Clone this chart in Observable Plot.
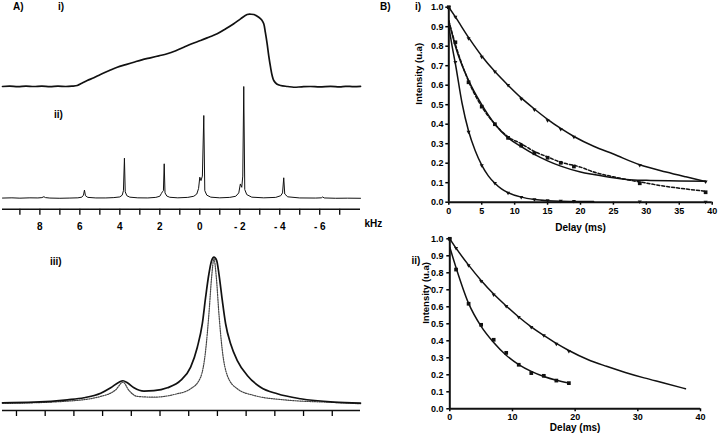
<!DOCTYPE html>
<html><head><meta charset="utf-8">
<script src="https://cdn.jsdelivr.net/npm/d3@7"></script>
<script src="https://cdn.jsdelivr.net/npm/@observablehq/plot@0.6"></script>
<style>
body{margin:0;background:#fff;}
#fig{position:relative;width:720px;height:438px;overflow:hidden;font-family:"Liberation Sans",Arial,sans-serif;background:#fff;}
.pn{position:absolute;}
.lbl{position:absolute;font-weight:bold;font-size:10px;line-height:10px;color:#000;white-space:nowrap;}
</style></head><body><div id="fig"></div>
<script>
// ---------- Panel A data ----------
const kHzDomain = [9.87, -8.04];
const kHzTicks = [9,8,7,6,5,4,3,2,1,0,-1,-2,-3,-4,-5,-6,-7];
const kHzLabels = [8,6,4,2,0,-2,-4,-6];
// spectrum i) [kHz, intensity]
const specI = [[9.87,0.0],[9.5,0.004],[9.1,-0.003],[8.7,0.005],[8.3,0.0],[7.9,0.006],[7.5,-0.002],[7.1,0.004],[6.7,0.0],[6.4,0.005],[6.13,0.014],[5.9,0.045],[5.63,0.082],[5.3,0.12],[4.97,0.164],[4.55,0.215],[4.13,0.264],[3.7,0.30],[3.3,0.333],[2.9,0.365],[2.47,0.393],[2.05,0.42],[1.63,0.448],[1.2,0.49],[0.8,0.538],[0.4,0.585],[-0.04,0.63],[-0.45,0.675],[-0.87,0.722],[-1.3,0.79],[-1.7,0.859],[-2.04,0.927],[-2.37,0.986],[-2.55,0.99],[-2.7,0.986],[-2.95,0.949],[-3.1,0.91],[-3.2,0.859],[-3.28,0.74],[-3.37,0.585],[-3.45,0.42],[-3.54,0.264],[-3.62,0.15],[-3.7,0.082],[-3.85,0.035],[-4.04,0.014],[-4.4,0.0],[-4.7,-0.01],[-5.1,-0.004],[-5.54,0.0],[-6.0,-0.006],[-6.54,0.002],[-7.0,-0.004],[-7.29,0.003],[-7.7,-0.002],[-8.04,0.002]];
// spectrum ii) [kHz, intensity]
const specII = [[9.87,0.004],[9.4,0.006],[9.0,0.003],[8.5,0.006],[8.1,0.005],[7.9,0.008],[7.8,0.016],[7.72,0.008],[7.5,0.004],[7.0,0.002],[6.5,0.004],[6.1,0.006],[5.9,0.012],[5.82,0.03],[5.77,0.075],[5.72,0.025],[5.6,0.01],[5.2,0.005],[4.7,0.005],[4.3,0.008],[4.0,0.014],[3.88,0.03],[3.82,0.07],[3.77,0.36],[3.73,0.06],[3.65,0.025],[3.5,0.012],[3.1,0.006],[2.6,0.005],[2.2,0.01],[2.0,0.02],[1.92,0.045],[1.87,0.06],[1.82,0.07],[1.78,0.31],[1.74,0.05],[1.65,0.022],[1.5,0.011],[1.1,0.006],[0.6,0.01],[0.3,0.02],[0.15,0.04],[0.06,0.09],[0.0,0.19],[-0.06,0.16],[-0.13,0.2],[-0.2,0.741],[-0.25,0.07],[-0.35,0.03],[-0.55,0.012],[-1.0,0.006],[-1.5,0.01],[-1.8,0.02],[-1.95,0.05],[-2.03,0.13],[-2.1,0.1],[-2.15,0.2],[-2.2,1.0],[-2.25,0.08],[-2.35,0.035],[-2.6,0.012],[-3.2,0.006],[-3.8,0.01],[-4.05,0.025],[-4.14,0.05],[-4.2,0.185],[-4.25,0.04],[-4.4,0.015],[-5.0,0.005],[-5.8,0.004],[-6.08,0.006],[-6.15,0.014],[-6.22,0.005],[-6.8,0.002],[-7.4,0.003],[-8.04,0.002]];
// spectrum iii) solid and dotted [position, intensity]
const specIIIDomain = [0.513, 12.984];
const specIIITicks = [1,2,3,4,5,6,7,8,9,10,11,12];
const specIIISolid = [[0.513,0.007],[1.613,0.011],[2.775,0.027],[3.353,0.041],[3.934,0.072],[4.282,0.109],[4.571,0.147],[4.71,0.157],[4.864,0.143],[5.093,0.109],[5.441,0.086],[5.789,0.089],[6.256,0.109],[6.719,0.159],[7.067,0.25],[7.3,0.386],[7.474,0.546],[7.589,0.727],[7.704,0.887],[7.798,0.978],[7.878,1.0],[7.972,0.978],[8.052,0.887],[8.17,0.705],[8.285,0.546],[8.459,0.409],[8.692,0.295],[9.04,0.193],[9.503,0.113],[10.085,0.068],[10.896,0.034],[12.055,0.011],[12.984,0.004]];
const specIIIDotted = [[0.513,0.002],[2.775,0.018],[3.934,0.05],[4.456,0.095],[4.71,0.147],[4.919,0.091],[5.212,0.05],[5.789,0.045],[6.486,0.063],[7.067,0.102],[7.415,0.181],[7.589,0.364],[7.704,0.614],[7.798,0.864],[7.878,0.989],[7.961,0.864],[8.052,0.614],[8.17,0.364],[8.344,0.193],[8.692,0.102],[9.27,0.057],[10.314,0.027],[12.055,0.009],[12.984,0.0]];

// ---------- Panel B data ----------
const yTicksB = [0,0.1,0.2,0.3,0.4,0.5,0.6,0.7,0.8,0.9,1.0];
const xTicksBi = [0,5,10,15,20,25,30,35,40];
const xTicksBii = [0,10,20,30,40];
// B i) measured points
const delayBi = [0,1,3,5,7,9,11,13,15,17,19,29,39];
const BiTop = [1.0,0.95,0.84,0.745,0.67,0.6,0.53,0.475,0.42,0.375,0.335,0.19,0.105];
const BiSquares = [1.0,0.82,0.615,0.49,0.40,0.33,0.29,0.251,0.228,0.202,0.183,0.097,0.051];
const delayBiFast = [1,3,5,7,9,11,13,15,17,19,29,39];
const BiFast = [0.718,0.36,0.188,0.097,0.048,0.026,0.014,0.009,0.007,0.005,0.003,0.002];
// B i) fitted curves
const fitBiTopT = [0,1,3,5,7,9,11,13,15,17,19,22,25,29,33,36,39];
const fitBiTopV = [1.0,0.95,0.845,0.75,0.67,0.6,0.535,0.478,0.425,0.378,0.337,0.287,0.247,0.192,0.155,0.13,0.106];
const fitBiDashT = [0,1,3,5,7,9,11,13,15,17,20,22,25,27,30,32,35,39];
const fitBiDashV = [0.93,0.81,0.62,0.49,0.40,0.335,0.30,0.26,0.232,0.205,0.18,0.155,0.13,0.116,0.098,0.086,0.072,0.056];
const fitBiMidT = [0,1,3,5,7,9,11,13,15,17,20,22,25,27,30,35,39];
const fitBiMidV = [0.93,0.80,0.625,0.50,0.40,0.33,0.285,0.245,0.212,0.185,0.155,0.142,0.125,0.117,0.112,0.109,0.107];
const fitBiFastT = [0,0.5,1,2,3,4,5,6,7,8,9,11,13,15,17,19,22];
const fitBiFastV = [0.9,0.8,0.71,0.51,0.365,0.265,0.19,0.135,0.097,0.068,0.049,0.026,0.014,0.008,0.005,0.004,0.003];
// B ii) measured points
const delayBii = [0,1,3,5,7,9,11,13,15,17,19];
const BiiTop = [1.0,0.945,0.843,0.751,0.672,0.604,0.539,0.48,0.431,0.382,0.339];
const BiiSquares = [1.0,0.819,0.618,0.494,0.406,0.329,0.259,0.21,0.194,0.166,0.151];
// B ii) fitted curves
const fitBiiTopT = [0,1,3,5,7,9,11,13,15,17,19,22,25,28,31,34,37.6];
const fitBiiTopV = [1.0,0.945,0.845,0.755,0.675,0.605,0.54,0.482,0.432,0.385,0.343,0.29,0.25,0.214,0.182,0.153,0.118];
const fitBiiSqT = [0,1,3,5,7,9,11,13,15,17,19];
const fitBiiSqV = [0.95,0.83,0.62,0.485,0.39,0.315,0.26,0.22,0.19,0.168,0.152];

// ---------- helpers ----------
const fig = document.getElementById("fig");
const FONT = '"Liberation Sans", Arial, sans-serif';
function place(svg, left, top) {
  const d = document.createElement("div");
  d.className = "pn"; d.style.left = left + "px"; d.style.top = top + "px";
  d.appendChild(svg); fig.appendChild(d);
}
function label(text, left, top) {
  const d = document.createElement("div");
  d.className = "lbl"; d.textContent = text;
  d.style.left = left + "px"; d.style.top = top + "px";
  fig.appendChild(d);
}
const pairs = (arr) => arr.map(([x, y]) => ({x, y}));
const zip = (xs, ys) => xs.map((x, i) => ({x, y: ys[i]}));
const baseStyle = {fontFamily: FONT, fontSize: "10px", fontWeight: "bold", background: "transparent", overflow: "visible", color: "#000"};
const kfmt = d => kHzLabels.includes(d) ? (d < 0 ? "- " + (-d) : String(d)) : "";

// ---------- A i) ----------
place(Plot.plot({
  width: 380, height: 100,
  marginLeft: 2, marginRight: 20, marginTop: 13, marginBottom: 14,
  x: {domain: kHzDomain, axis: null},
  y: {domain: [0, 1], axis: null},
  style: baseStyle,
  marks: [
    Plot.line(pairs(specI), {x: "x", y: "y", curve: "catmull-rom", stroke: "#111", strokeWidth: 1.7})
  ]
}), 0, 0);

// ---------- A ii) ----------
const aiiYDomain = [-0.0955, 1];
place(Plot.plot({
  width: 380, height: 155,
  marginLeft: 2, marginRight: 20, marginTop: 6, marginBottom: 26.3,
  x: {domain: kHzDomain},
  y: {domain: aiiYDomain, axis: null},
  style: baseStyle,
  marks: [
    Plot.axisX(kHzTicks, {tickSize: 6, tickPadding: 8, tickFormat: kfmt, label: null, strokeWidth: 1.3, fontSize: 10}),
    Plot.ruleY([aiiYDomain[0]], {stroke: "#111", strokeWidth: 1.5}),
    Plot.line(pairs(specII), {x: "x", y: "y", stroke: "#111", strokeWidth: 1}),
    Plot.text(["kHz"], {frameAnchor: "bottom-right", dx: 4, dy: 17.5, textAnchor: "start", fontSize: 10, fontWeight: "bold"})
  ]
}), 0, 80);

// ---------- A iii) ----------
const aiiiYDomain = [-0.046, 1];
place(Plot.plot({
  width: 380, height: 200,
  marginLeft: 2, marginRight: 20, marginTop: 21.7, marginBottom: 25,
  x: {domain: specIIIDomain},
  y: {domain: aiiiYDomain, axis: null},
  style: baseStyle,
  marks: [
    Plot.axisX(specIIITicks, {tickSize: 6, tickFormat: () => "", label: null, strokeWidth: 1.3}),
    Plot.ruleY([aiiiYDomain[0]], {stroke: "#111", strokeWidth: 1.5}),
    Plot.line(pairs(specIIIDotted), {x: "x", y: "y", curve: "monotone-x", stroke: "#444", strokeWidth: 1.2, strokeDasharray: "1.2,1.2"}),
    Plot.line(pairs(specIIISolid), {x: "x", y: "y", curve: "monotone-x", stroke: "#111", strokeWidth: 1.7})
  ]
}), 0, 235);

// ---------- B i) ----------
const tri = {symbol: "triangle", r: 1.5, fill: "#111", rotate: 180};
const sq = {symbol: "square", r: 2.1, fill: "#111"};
place(Plot.plot({
  width: 340, height: 240,
  marginLeft: 68.3, marginRight: 8.3, marginTop: 6.7, marginBottom: 38.3,
  x: {domain: [0, 40]},
  y: {domain: [0, 1]},
  style: {...baseStyle, fontSize: "9px"},
  marks: [
    Plot.axisY(yTicksB, {tickSize: 3, tickPadding: 2.3, tickFormat: d3.format(".1f"), label: null, strokeWidth: 1.5, fontSize: 9}),
    Plot.axisX(xTicksBi, {tickSize: 3, tickPadding: 2, label: null, strokeWidth: 1.5, fontSize: 9}),
    Plot.line(zip(fitBiTopT, fitBiTopV), {x: "x", y: "y", curve: "monotone-x", stroke: "#111", strokeWidth: 1.5}),
    Plot.line(zip(fitBiMidT, fitBiMidV), {x: "x", y: "y", curve: "monotone-x", stroke: "#111", strokeWidth: 1.5}),
    Plot.line(zip(fitBiDashT, fitBiDashV), {x: "x", y: "y", curve: "monotone-x", stroke: "#111", strokeWidth: 1.5, strokeDasharray: "3,2"}),
    Plot.line(zip(fitBiFastT, fitBiFastV), {x: "x", y: "y", curve: "monotone-x", stroke: "#111", strokeWidth: 1.5}),
    Plot.ruleX([0], {stroke: "#111", strokeWidth: 2}),
    Plot.ruleY([0], {stroke: "#111", strokeWidth: 2}),
    Plot.dot(zip(delayBi, BiTop), {x: "x", y: "y", ...tri}),
    Plot.dot(zip(delayBi, BiSquares), {x: "x", y: "y", ...sq}),
    Plot.dot(zip(delayBiFast, BiFast), {x: "x", y: "y", ...tri}),
    Plot.text(["Intensity (u.a)"], {frameAnchor: "left", rotate: -90, dx: -30, fontSize: 9.5, fontWeight: "bold"}),
    Plot.text(["Delay (ms)"], {frameAnchor: "bottom", dy: 28.5, fontSize: 10, fontWeight: "bold"})
  ]
}), 380, 0);

// ---------- B ii) ----------
place(Plot.plot({
  width: 340, height: 218,
  marginLeft: 69.3, marginRight: 20, marginTop: 18.3, marginBottom: 29.7,
  x: {domain: [0, 40]},
  y: {domain: [0, 1]},
  style: {...baseStyle, fontSize: "9px"},
  marks: [
    Plot.axisY(yTicksB, {tickSize: 3, tickPadding: 3.3, tickFormat: d3.format(".1f"), label: null, strokeWidth: 1.5, fontSize: 9}),
    Plot.axisX(xTicksBii, {tickSize: 3, tickPadding: 1.5, label: null, strokeWidth: 1.5, fontSize: 9}),
    Plot.line(zip(fitBiiTopT, fitBiiTopV), {x: "x", y: "y", curve: "monotone-x", stroke: "#111", strokeWidth: 1.5}),
    Plot.line(zip(fitBiiSqT, fitBiiSqV), {x: "x", y: "y", curve: "monotone-x", stroke: "#111", strokeWidth: 1.5}),
    Plot.ruleX([0], {stroke: "#111", strokeWidth: 2}),
    Plot.ruleY([0], {stroke: "#111", strokeWidth: 2}),
    Plot.dot(zip(delayBii, BiiTop), {x: "x", y: "y", ...tri}),
    Plot.dot(zip(delayBii, BiiSquares), {x: "x", y: "y", ...sq}),
    Plot.text(["Intensity (u.a)"], {frameAnchor: "left", rotate: -90, dx: -24, fontSize: 9.5, fontWeight: "bold"}),
    Plot.text(["Delay (ms)"], {frameAnchor: "bottom", dy: 22.4, fontSize: 10, fontWeight: "bold"})
  ]
}), 380, 220);

// ---------- panel labels ----------
label("A)", 13, 1.5);
label("i)", 58, 1.5);
label("ii)", 54, 110);
label("iii)", 50, 256.5);
label("B)", 380, 2);
label("i)", 415, 2);
label("ii)", 411.5, 255.5);
</script></body></html>
